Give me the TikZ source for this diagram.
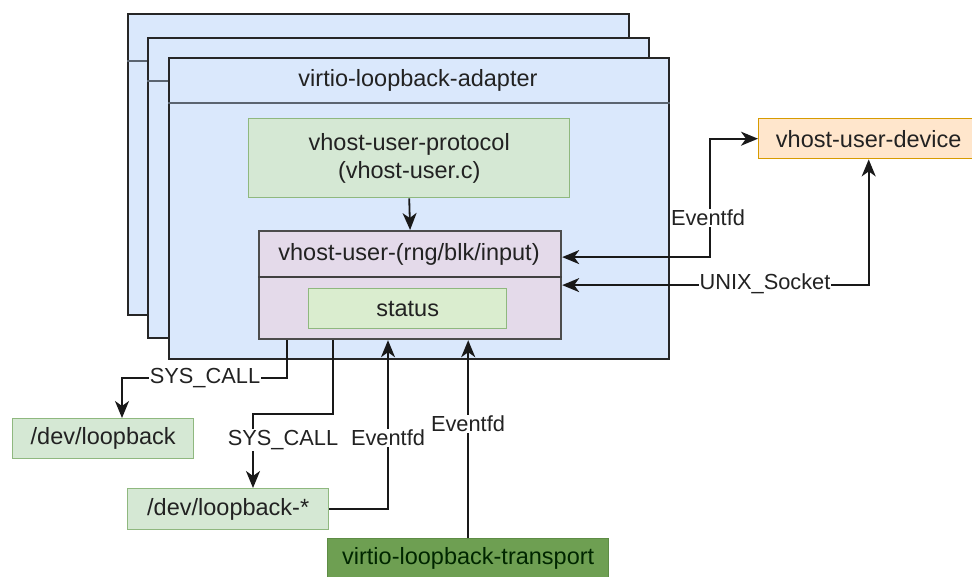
\documentclass[tikz,border=0pt]{standalone}
\usepackage{fontspec}
\setmainfont{Liberation Sans}
\usetikzlibrary{arrows.meta,calc}
\definecolor{bluefill}{HTML}{DAE8FC}
\definecolor{purplefill}{HTML}{E4DAEA}
\definecolor{greenfill}{HTML}{D5E8D4}
\definecolor{greenline}{HTML}{8FB87F}
\definecolor{statusfill}{HTML}{DAEDCF}
\definecolor{orangefill}{HTML}{FFE6CC}
\definecolor{orangeline}{HTML}{D79B00}
\definecolor{darkgreen}{HTML}{6E9F52}
\definecolor{darkgreenline}{HTML}{5E8C45}
\definecolor{hdrline}{HTML}{5B6470}
\definecolor{txt}{HTML}{222222}
\tikzset{
  nodefont/.style={font=\fontsize{23.5}{28}\selectfont, text=txt},
  lblfont/.style={font=\fontsize{21.8}{26}\selectfont, text=txt},
  adapterbox/.style={draw=black!85, fill=bluefill, line width=1.6pt, anchor=north west, inner sep=0pt},
  hdr/.style={draw=hdrline, line width=2.4pt},
  greenbox/.style={draw=greenline, fill=greenfill, line width=1.4pt, anchor=north west, inner sep=0pt, nodefont, align=center},
  conn/.style={draw=black!90, line width=1.8pt},
  tip/.style={-{Stealth[length=17pt,width=14pt,inset=5pt]}},
  dtip/.style={{Stealth[length=17pt,width=14pt,inset=5pt]}-{Stealth[length=17pt,width=14pt,inset=5pt]}},
  lbl/.style={lblfont, fill=white, inner sep=1pt}
}
\begin{document}
\begin{tikzpicture}[x=1pt,y=-1pt]
\useasboundingbox (0,0) rectangle (972,576);
% stacked adapter boxes
\node[adapterbox, minimum width=501, minimum height=301] (back) at (127,13) {};
\draw[hdr] ($(back.north west)+(0,48)$) -- ($(back.north east)+(0,48)$);
\node[adapterbox, minimum width=501, minimum height=300] (mid) at (147,37) {};
\draw[hdr] ($(mid.north west)+(0,44)$) -- ($(mid.north east)+(0,44)$);
\node[adapterbox, minimum width=500, minimum height=301] (front) at (168,57) {};
\draw[hdr] ($(front.north west)+(0,46)$) -- ($(front.north east)+(0,46)$);
\node[nodefont] (adtitle) at (418,80) {virtio-loopback-adapter};
% protocol
\node[greenbox, minimum width=321, minimum height=79] (proto) at (248,118) {vhost-user-protocol\\(vhost-user.c)};
% vhost-user box
\node[draw=black!70, fill=purplefill, line width=2.2pt, anchor=north west, inner sep=0pt, minimum width=302, minimum height=108] (vhost) at (258,230) {};
\draw[draw=black!75, line width=1.8pt] ($(vhost.north west)+(0,47)$) -- ($(vhost.north east)+(0,47)$);
\node[nodefont] (vtitle) at (409,254) {vhost-user-(rng/blk/input)};
\node[draw=greenline, fill=statusfill, line width=1.4pt, anchor=north west, inner sep=0pt, nodefont, minimum width=198, minimum height=40] (status) at (308,288) {status};
% external boxes
\node[draw=orangeline, fill=orangefill, line width=1.4pt, anchor=north west, inner sep=0pt, nodefont, minimum width=220, minimum height=40] (dev) at (758,118) {vhost-user-device};
\node[greenbox, minimum width=181, minimum height=40] (devloop) at (12,418) {/dev/loopback};
\node[greenbox, minimum width=201, minimum height=41] (devstar) at (127,488) {/dev/loopback-*};
\node[draw=darkgreenline, fill=darkgreen, line width=1.4pt, anchor=north west, inner sep=0pt, font=\fontsize{23.5}{28}\selectfont, text=black!85!green, minimum width=281, minimum height=40] (transport) at (327,538) {virtio-loopback-transport};
% connectors
\draw[conn, tip] (proto.south) -- (vhost.north);
\draw[conn, dtip] ($(vhost.east)+(0,-28)$) -- ++(148,0) |- (dev.west);
\draw[conn, dtip] (vhost.east) -| (dev.south);
\draw[conn, tip] ($(vhost.south west)+(29,0)$) |- (122,378) -- (122,0 |- devloop.north);
\draw[conn, tip] ($(vhost.south west)+(75,0)$) |- (253,414) -- (253,0 |- devstar.north);
\draw[conn, tip] (devstar.east) -| ($(vhost.south west)+(130,0)$);
\draw[conn, tip] (transport.north) -- (transport.north |- vhost.south);
% labels
\node[lbl] (l1) at (708,218) {Eventfd};
\node[lbl] (l2) at (765,284) {UNIX\_Socket};
\node[lbl] (l3) at (205,378) {SYS\_CALL};
\node[lbl] (l4) at (283,440) {SYS\_CALL};
\node[lbl] (l5) at (388,438) {Eventfd};
\node[lbl] (l6) at (468,424) {Eventfd};
\end{tikzpicture}
\end{document}
